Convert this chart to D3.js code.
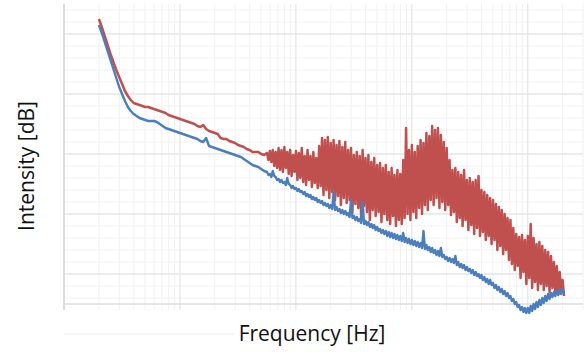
<!DOCTYPE html>
<html>
<head>
<meta charset="utf-8">
<script src="https://cdn.jsdelivr.net/npm/d3@7"></script>
<style>
  body { margin: 0; background: #fff; }
  svg { display: block; font-family: "Open Sans", sans-serif; }
</style>
</head>
<body>
<div id="chart"></div>
<script>
// spectrum bins: 40 per decade from 2 Hz, each bin has a peak and a trough sample
const binStartHz = 2;
const binsPerDecade = 40;

// red trace (dB), peak per bin
const redPeak = [
  7.5, 3.5, -1, -5.5, -10, -14, -18, -21.5, -25, -28.5,
  -31, -33, -34.5, -35, -35.5, -36, -36.5, -36.5, -37, -37.5,
  -38, -38.5, -39, -39.5, -40.5, -41, -41.5, -42, -42.5, -43,
  -43.5, -44, -44.5, -45, -46, -46.5, -45.5, -47.5, -48.5, -49,
  -49.5, -50, -52, -52.5, -52.5, -53.5, -54, -54.5, -55.5, -56,
  -56.5, -57.5, -58, -59, -59, -59, -60, -60.5, -59.5, -58.5,
  -58, -59, -57, -58, -56.5, -59, -58, -60.5, -58.5, -59.5,
  -57, -61, -58, -61, -59, -62, -56, -52, -53, -51.5,
  -54.5, -53, -55.5, -53.5, -56.5, -54, -58, -57, -60.5, -59,
  -61, -58, -62, -60.5, -64, -62, -65.5, -64.5, -67, -65.5,
  -69, -67, -70.5, -68, -70, -63, -47, -58, -55.5, -59,
  -56, -53, -54.5, -49.5, -51, -46, -48, -47, -50.5, -54,
  -57, -63, -68, -67, -69, -70.5, -68, -73, -72, -74,
  -73, -71, -78, -79, -80.5, -82, -83, -85, -86.5, -88,
  -90, -92, -93, -97, -100, -101.5, -100.5, -103, -101, -95,
  -102, -105, -104, -106, -108, -109, -111, -114, -116, -119,
  -123
];
// red trough per bin (noisy part only, from bin 58)
const redTrough = Array(58).fill(null).concat([
  -63, -64, -66, -67, -68, -69, -67, -70, -71, -69,
  -73, -72, -74, -75.5, -73, -76.5, -74.5, -77, -76, -80.5,
  -78, -82, -79, -83, -81, -85.5, -82, -84.5, -83, -89,
  -85, -87, -92, -86, -89, -93, -88, -91, -89, -94,
  -90, -93, -95, -91, -96, -93, -95, -92, -90, -93,
  -89, -92, -87, -90, -85.5, -88, -83, -85.5, -82, -87,
  -84, -88, -85.5, -90.5, -89, -94, -92, -96, -93, -98,
  -95.5, -100, -97, -101, -99, -103, -101, -105, -103, -108,
  -106, -110, -108, -113, -115, -118, -116, -122, -119, -125,
  -122, -127, -124, -128, -125, -128, -126, -129, -127, -129,
  -130, -128, -131
]);

// blue trace (dB)
const bluePeak = [
  4.5, 0.5, -4, -8.5, -13, -17.5, -22, -26.5, -30, -33.5,
  -36.5, -38.5, -40, -41, -42, -42.5, -43, -43.5, -43.5, -43.5,
  -44, -45, -46, -47, -47.5, -48, -48.5, -49, -49.5, -50,
  -50.5, -51, -51.5, -52, -52.5, -53.5, -54, -52, -56, -56.5,
  -57, -57.5, -58, -58.5, -59, -59.5, -60, -60.5, -61, -61.5,
  -62.5, -63.5, -64.5, -65.5, -66, -66.5, -67.5, -68.5, -69, -70,
  -68.5, -71.5, -72.5, -73, -74, -72, -75.5, -76, -77, -77.5,
  -78.5, -79, -80, -80.5, -81.5, -82, -83, -83.5, -84.5, -85,
  -85.5, -79, -86.5, -87.5, -88, -88.5, -89.5, -83, -91, -91.5,
  -92.5, -84, -93.5, -94, -95, -95.5, -96.5, -97.5, -98, -98.5,
  -99, -99.5, -100, -100.5, -101, -99.5, -102, -102.5, -103, -103.5,
  -104, -104.5, -98.5, -105.5, -106.5, -107, -108, -108.5, -107, -110.5,
  -111.5, -112, -112.5, -111, -114, -115, -115.5, -116.5, -117.5, -118,
  -119, -120, -120.5, -121.5, -122.5, -123, -124.5, -125.5, -126.5, -127.5,
  -128.5, -129.5, -131, -132.5, -134, -135.5, -136.5, -137, -137, -136,
  -135, -134, -133, -132, -131, -130, -129.5, -129, -128.5, -128,
  -127.5
];
const blueTrough = Array(58).fill(null).concat([
  -70.5, -71.5, -71, -73, -74, -74.5, -75.5, -75, -77, -77.5,
  -78.5, -79, -80, -81, -81.5, -82.5, -83, -84, -84.5, -85.5,
  -86, -87, -87.5, -88, -88.5, -89.5, -90, -90.5, -91.5, -92,
  -93, -93.5, -94.5, -95, -95.5, -96.5, -97, -98, -98.5, -99.5,
  -100, -101, -101.5, -102, -102.5, -103, -103.5, -104, -104.5, -105,
  -105.5, -106, -106.5, -107, -107.5, -108, -109, -109.5, -110.5, -111,
  -111.5, -112.5, -113.5, -114, -114.5, -115.5, -116.5, -117, -118, -118.5,
  -119.5, -120.5, -121, -122, -123, -124, -125, -125.5, -127, -128,
  -129, -130, -131, -132, -133.5, -135, -136.5, -138, -139, -139.5,
  -139.5, -138.5, -137.5, -136.5, -135.5, -134.5, -133.5, -132.5, -131.5, -131,
  -130.5, -130, -129.5
]);

const freqDomain = [1, 30000];
const dbDomain = [-135, 15];
const dbMajorStep = 30;
const dbMinorStep = 6;

const width = 586, height = 356;
const svg = d3.select('#chart').append('svg')
  .attr('width', width)
  .attr('height', height);

const x = d3.scaleLog().domain(freqDomain).range([64, 583]);
const y = d3.scaleLinear().domain(dbDomain).range([304, 4]);

// grid
const grid = svg.append('g');
const xMinor = [], xMajor = [];
for (let d = 1; d <= 10000; d *= 10) {
  xMajor.push(d);
  for (let m = 2; m <= 9; m++) if (d * m <= freqDomain[1]) xMinor.push(d * m);
}
const yAll = d3.range(12, dbDomain[0], -dbMinorStep);
const yMajor = yAll.filter(v => v % dbMajorStep === 0);
const yMinor = yAll.filter(v => v % dbMajorStep !== 0);

grid.selectAll('.ymin').data(yMinor).enter().append('line')
  .attr('x1', x.range()[0]).attr('x2', x.range()[1])
  .attr('y1', d => y(d)).attr('y2', d => y(d))
  .attr('stroke', '#f1f1f1').attr('stroke-width', 1);
grid.selectAll('.xmin').data(xMinor).enter().append('line')
  .attr('x1', d => x(d)).attr('x2', d => x(d))
  .attr('y1', y.range()[1]).attr('y2', y.range()[0] + 6)
  .attr('stroke', '#f1f1f1').attr('stroke-width', 1);
grid.selectAll('.ymaj').data(yMajor).enter().append('line')
  .attr('x1', x.range()[0]).attr('x2', x.range()[1])
  .attr('y1', d => y(d)).attr('y2', d => y(d))
  .attr('stroke', '#e6e6e6').attr('stroke-width', 1.6);
grid.selectAll('.xmaj').data(xMajor).enter().append('line')
  .attr('x1', d => x(d)).attr('x2', d => x(d))
  .attr('y1', y.range()[1]).attr('y2', y.range()[0] + 6)
  .attr('stroke', d => d === 1 ? '#dcdcdc' : '#e8e8e8')
  .attr('stroke-width', d => d === 1 ? 2 : 1.4);

// bottom axis line
grid.append('line')
  .attr('x1', x.range()[0]).attr('x2', x.range()[1])
  .attr('y1', y.range()[0]).attr('y2', y.range()[0])
  .attr('stroke', '#dedede').attr('stroke-width', 1.6);
grid.append('line')
  .attr('x1', x.range()[0]).attr('x2', 235)
  .attr('y1', 334).attr('y2', 334)
  .attr('stroke', '#f2f2f2').attr('stroke-width', 1.5);

// traces
function samples(peak, trough) {
  const pts = [];
  peak.forEach((v, i) => {
    pts.push({ f: binStartHz * Math.pow(10, i / binsPerDecade), db: v });
    if (trough[i] != null) {
      pts.push({ f: binStartHz * Math.pow(10, (i + 0.5) / binsPerDecade), db: trough[i] });
    }
  });
  return pts;
}

const line = d3.line()
  .x(d => x(d.f))
  .y(d => y(d.db));

svg.append('path')
  .datum(samples(redPeak, redTrough))
  .attr('fill', 'none')
  .attr('stroke', '#c0504d')
  .attr('stroke-width', 2.5)
  .attr('stroke-linejoin', 'round')
  .attr('d', line);

svg.append('path')
  .datum(samples(bluePeak, blueTrough))
  .attr('fill', 'none')
  .attr('stroke', '#4a7ebf')
  .attr('stroke-width', 2.4)
  .attr('stroke-linejoin', 'round')
  .attr('d', line);

// axis titles
svg.append('text')
  .attr('x', 312).attr('y', 341)
  .attr('text-anchor', 'middle')
  .attr('font-size', 21)
  .attr('fill', '#111')
  .text('Frequency [Hz]');

svg.append('text')
  .attr('transform', 'translate(34,166) rotate(-90)')
  .attr('text-anchor', 'middle')
  .attr('font-size', 21)
  .attr('fill', '#111')
  .text('Intensity [dB]');
</script>
</body>
</html>
